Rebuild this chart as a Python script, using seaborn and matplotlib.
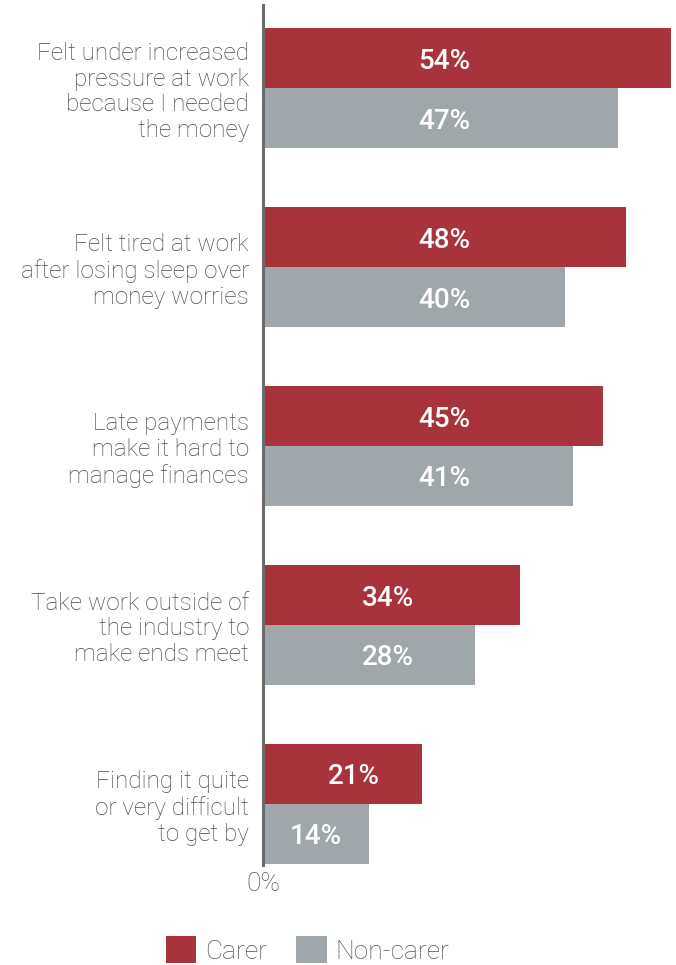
import matplotlib
matplotlib.use("Agg")
import matplotlib.pyplot as plt
import seaborn as sns
import pandas as pd
from matplotlib.patches import Patch

categories = [
    "Felt under increased\npressure at work\nbecause I needed\nthe money",
    "Felt tired at work\nafter losing sleep over\nmoney worries",
    "Late payments\nmake it hard to\nmanage finances",
    "Take work outside of\nthe industry to\nmake ends meet",
    "Finding it quite\nor very difficult\nto get by",
]
carer = [54, 48, 45, 34, 21]
non_carer = [47, 40, 41, 28, 14]
series = ["Carer", "Non-carer"]
colors = ["#A9333A", "#A0A7AA"]

# horizontal anchor of the value labels (layout, in axis units)
label_anchor_carer = [24, 24, 24, 16.5, 12]
label_anchor_noncarer = [24, 24, 24, 16.5, 7]

df = pd.DataFrame({
    "category": categories * 2,
    "value": carer + non_carer,
    "group": [series[0]] * len(categories) + [series[1]] * len(categories),
})

sns.set_theme(style="white")
plt.rcParams["font.family"] = ["Roboto", "DejaVu Sans"]

fig = plt.figure(figsize=(6.76, 9.65), dpi=100)
ax = fig.add_axes([263 / 676, 100 / 965, 408 / 676, 860 / 965])

sns.barplot(data=df, x="value", y="category", hue="group", orient="h",
            palette=colors, width=0.67, saturation=1, legend=False, ax=ax,
            linewidth=0)

ax.set_xlim(0, 54)
ax.set_ylim(4.341, -0.464)
ax.set_xlabel("")
ax.set_ylabel("")
ax.set_xticks([0])
ax.set_xticklabels(["0%"], fontsize=19, color="#555555", fontweight="light")
ax.tick_params(axis="both", length=0)
ax.tick_params(axis="y", pad=10)
ax.tick_params(axis="x", pad=5)
for lbl in ax.get_yticklabels():
    lbl.set_fontsize(17.5)
    lbl.set_color("#4a4a4a")
    lbl.set_fontweight("light")
    lbl.set_horizontalalignment("right")
    lbl.set_multialignment("right")
    lbl.set_linespacing(1.15)

for s in ["top", "right", "bottom"]:
    ax.spines[s].set_visible(False)
ax.spines["left"].set_color("#6b6b6b")
ax.spines["left"].set_linewidth(2.2)

for cont, vals, anchors in zip(ax.containers, [carer, non_carer],
                               [label_anchor_carer, label_anchor_noncarer]):
    for bar, v, xa in zip(cont, vals, anchors):
        yc = bar.get_y() + bar.get_height() / 2
        ax.text(xa, yc, f"{v}%", ha="center", va="center_baseline",
                color="white", fontsize=20, fontweight="medium")

handles = [Patch(facecolor=c, edgecolor="none", label=s) for c, s in zip(colors, series)]
leg = fig.legend(handles=handles, loc="center", bbox_to_anchor=(0.455, 1 - 950 / 965),
                 ncol=2, frameon=False, fontsize=19, handlelength=1.15,
                 handleheight=1.15, handletextpad=0.35, columnspacing=1.1)
for t in leg.get_texts():
    t.set_color("#555555")
    t.set_fontweight("light")

fig.savefig("out.png", dpi=100)
